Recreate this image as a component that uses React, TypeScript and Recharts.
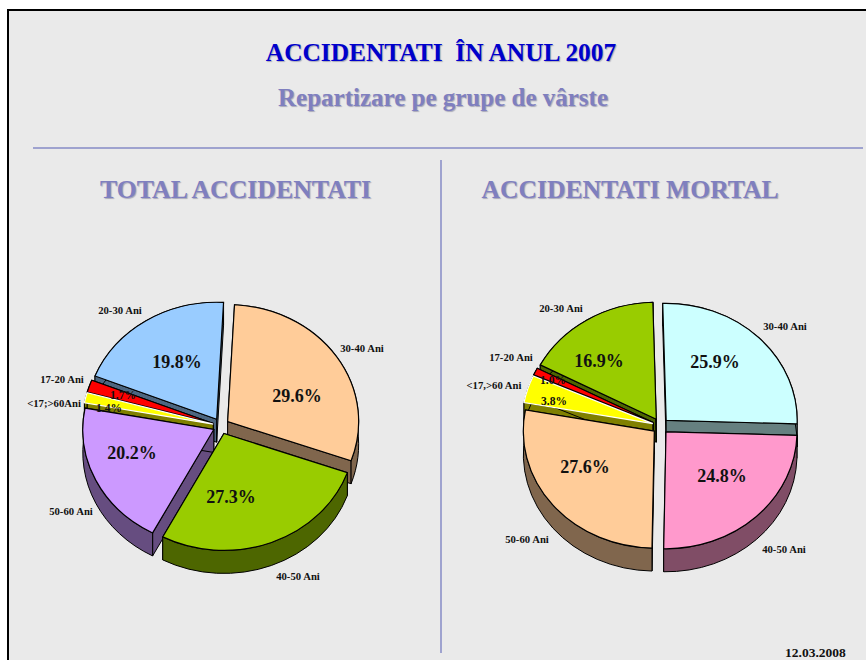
import React from 'react';
import { PieChart, Pie } from 'recharts';

// slices run clockwise, 30-40 first
const totalCategories = ['30-40 Ani', '40-50 Ani', '50-60 Ani', '<17;>60Ani', '17-20 Ani', '20-30 Ani'];
const totalValues = [29.6, 27.3, 20.2, 1.4, 1.7, 19.8];
const totalColors = ['#FFCC99', '#99CC00', '#CC99FF', '#FFFF00', '#FF0000', '#99CCFF'];

const mortalCategories = ['30-40 Ani', '40-50 Ani', '50-60 Ani', '<17,>60 Ani', '17-20 Ani', '20-30 Ani'];
const mortalValues = [25.9, 24.8, 27.6, 3.8, 1.0, 16.9];
const mortalColors = ['#CCFFFF', '#FF99CC', '#FFCC99', '#FFFF00', '#FF0000', '#99CC00'];

// text spots, in slice order: [x, y]
const totalNameSpots = [[362, 349], [298, 577], [71, 512], [54, 404], [62, 380], [120, 311]];
const totalPercentSpots = [[297, 396], [231, 497], [132, 453], [109, 407], [123, 394], [177, 362]];
const mortalNameSpots = [[785, 327], [784, 550], [527, 540], [494, 386], [511, 358], [561, 309]];
const mortalPercentSpots = [[715, 362], [722, 476], [585, 467], [554, 400], [553, 379], [599, 361]];

// back slices are painted first so the front ones cover their walls
const totalDrawOrder = [5, 4, 3, 2, 0, 1];
const mortalDrawOrder = [5, 4, 3, 2, 0, 1];

const SERIF = '"Liberation Serif", serif';
const SQUASH = 0.893;
const DEPTH = 23;
const EXPLODE = 8;

const darken = (hex: string) => {
  const n = parseInt(hex.slice(1), 16);
  const half = (v: number) => Math.round(v / 2).toString(16).padStart(2, '0');
  return `#${half((n >> 16) & 255)}${half((n >> 8) & 255)}${half(n & 255)}`;
};

const SliceShape = (props: any) => {
  const { cx, cy, outerRadius: r, startAngle, endAngle, midAngle, fill, visible } = props;
  if (!visible) return <g />;
  const rad = (a: number) => (a * Math.PI) / 180;
  const mid = midAngle ?? (startAngle + endAngle) / 2;
  const ox = cx + EXPLODE * Math.cos(rad(mid));
  const oy = cy - EXPLODE * Math.sin(rad(mid));
  const at = (a: number, dy = 0) => [ox + r * Math.cos(rad(a)), oy - r * SQUASH * Math.sin(rad(a)) + dy];
  const [sx, sy] = at(startAngle);
  const [ex, ey] = at(endAngle);
  const large = Math.abs(endAngle - startAngle) > 180 ? 1 : 0;
  const ry = r * SQUASH;
  const wall = darken(fill);
  const topStroke = fill === '#FFFF00' ? '#FFFFFF' : '#000000';
  return (
    <g>
      <path d={`M${ox},${oy} L${ox},${oy + DEPTH} L${sx},${sy + DEPTH} L${sx},${sy} Z`} fill={wall} stroke="#000" strokeWidth={1} />
      <path d={`M${ox},${oy} L${ox},${oy + DEPTH} L${ex},${ey + DEPTH} L${ex},${ey} Z`} fill={wall} stroke="#000" strokeWidth={1} />
      <path
        d={`M${sx},${sy} A${r},${ry} 0 ${large} 1 ${ex},${ey} L${ex},${ey + DEPTH} A${r},${ry} 0 ${large} 0 ${sx},${sy + DEPTH} Z`}
        fill={wall}
        stroke="#000"
        strokeWidth={1}
      />
      <path d={`M${ox},${oy} L${sx},${sy} A${r},${ry} 0 ${large} 1 ${ex},${ey} Z`} fill={fill} stroke={topStroke} strokeWidth={1.2} />
    </g>
  );
};

const toRows = (names: string[], values: number[], colors: string[]) =>
  values.map((value, i) => ({ name: names[i], value, fill: colors[i] }));

const pieLayers = (
  id: string,
  rows: { name: string; value: number; fill: string }[],
  order: number[],
  cx: number,
  cy: number,
  startAngle: number,
  nameSpots: number[][],
  percentSpots: number[][],
) => {
  const common = {
    data: rows,
    dataKey: 'value',
    nameKey: 'name',
    cx,
    cy,
    outerRadius: 131,
    startAngle,
    endAngle: startAngle - 360,
    stroke: 'none',
    isAnimationActive: false,
  };
  return [
    ...order.map((slice) => (
      <Pie
        key={`${id}-${slice}`}
        {...common}
        labelLine={false}
        shape={(p: any) => <SliceShape {...p} visible={p.index === slice} />}
      />
    )),
    <Pie
      key={`${id}-text`}
      {...common}
      labelLine={false}
      shape={() => <g />}
      label={(p: any) => {
        const [nx, ny] = nameSpots[p.index];
        const [tx, ty] = percentSpots[p.index];
        const small = rows[p.index].value < 5;
        return (
          <g key={p.index} fontFamily={SERIF} fontWeight="bold" textAnchor="middle" fill="#111">
            <text x={nx} y={ny + 1} fontSize={10.7} dominantBaseline="middle">{rows[p.index].name}</text>
            <text x={tx} y={ty + 2} fontSize={small ? 11.5 : 18} dominantBaseline="middle">{`${rows[p.index].value.toFixed(1)}%`}</text>
          </g>
        );
      }}
    />,
  ];
};

const Heading = ({ y, size, color, x = 441, children }: any) => (
  <div
    style={{
      position: 'absolute',
      left: x,
      top: y,
      transform: 'translate(-50%, -50%)',
      whiteSpace: 'pre',
      fontFamily: SERIF,
      fontWeight: 'bold',
      fontSize: size,
      color,
      textShadow: '1px 1px 1px #a8a8b8',
    }}
  >
    {children}
  </div>
);

export default function App() {
  return (
    <div style={{ position: 'fixed', left: 0, top: 0, width: 866, height: 660, overflow: 'hidden', background: '#fff' }}>
      <div style={{ position: 'absolute', left: 7, top: 9, width: 900, height: 700, background: '#EAEAEA', borderLeft: '2px solid #000', borderTop: '2px solid #000' }} />
      <div style={{ position: 'absolute', left: 33, top: 147, width: 830, height: 2, background: '#9FA3CF' }} />
      <div style={{ position: 'absolute', left: 440, top: 160, width: 2, height: 493, background: '#9FA3CF' }} />
      <Heading y={52} size={25.4} color="#0000CC">{'ACCIDENTATI  ÎN ANUL 2007'}</Heading>
      <Heading x={443} y={98} size={25} color="#7F7FBF">Repartizare pe grupe de vârste</Heading>
      <Heading x={235.5} y={190} size={25.8} color="#7F7FBF">TOTAL ACCIDENTATI</Heading>
      <Heading x={630} y={190} size={25.6} color="#7F7FBF">ACCIDENTATI MORTAL</Heading>
      <div style={{ position: 'absolute', left: 785, top: 645, fontFamily: SERIF, fontWeight: 'bold', fontSize: 13.5, color: '#111' }}>12.03.2008</div>
      <div style={{ position: 'absolute', left: 0, top: 0 }}>
        <PieChart width={866} height={660} margin={{ top: 0, right: 0, bottom: 0, left: 0 }}>
          {pieLayers('total', toRows(totalCategories, totalValues, totalColors), totalDrawOrder, 221, 426, 87, totalNameSpots, totalPercentSpots)}
          {pieLayers('mortal', toRows(mortalCategories, mortalValues, mortalColors), mortalDrawOrder, 660.5, 426, 91.5, mortalNameSpots, mortalPercentSpots)}
        </PieChart>
      </div>
    </div>
  );
}
